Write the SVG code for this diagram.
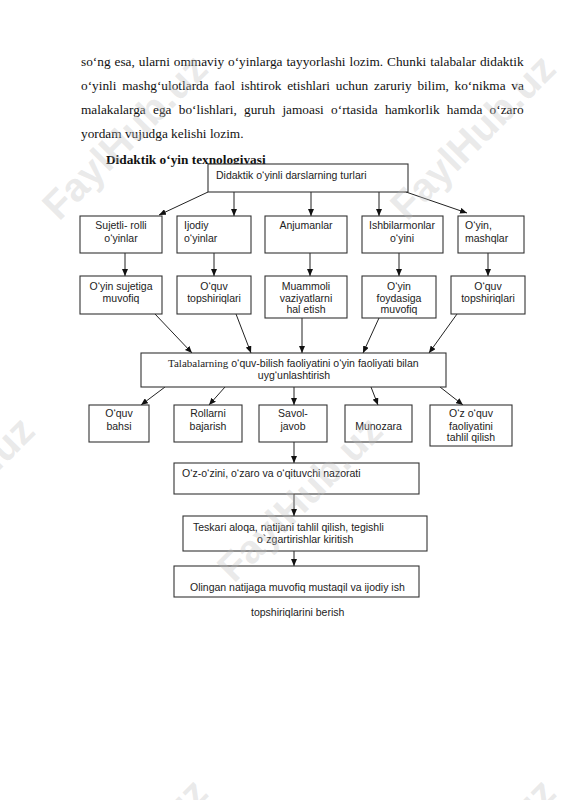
<svg xmlns="http://www.w3.org/2000/svg" width="565" height="800" viewBox="0 0 565 800">
<defs>
<style>
.para{font-family:"Liberation Serif","Times New Roman",serif;font-size:13.3px;fill:#111}
.head{font-family:"Liberation Serif","Times New Roman",serif;font-size:13.3px;font-weight:bold;fill:#111}
.t{font-family:"Liberation Sans",Arial,sans-serif;font-size:10.5px;fill:#222}
.c{text-anchor:middle}
.box{fill:#fff;stroke:#333;stroke-width:1.1}
.con{stroke:#222;stroke-width:1;fill:none;marker-end:url(#ah)}
.wm{font-family:"Liberation Sans",Arial,sans-serif;font-size:40px;font-weight:bold;fill:#bdbdbd;fill-opacity:0.32}
</style>
<marker id="ah" markerWidth="7" markerHeight="6" refX="7" refY="3" orient="auto" markerUnits="userSpaceOnUse">
<path d="M0,0 L7,3 L0,6 z" fill="#111"/>
</marker>
</defs>
<rect width="565" height="800" fill="#fff"/>
<g id="paragraph">
<text class="para" x="81" y="66" word-spacing="0.66">so‘ng esa, ularni ommaviy o‘yinlarga tayyorlashi lozim. Chunki talabalar didaktik</text>
<text class="para" x="81" y="90" word-spacing="2.43">o‘yinli mashg‘ulotlarda faol ishtirok etishlari uchun zaruriy bilim, ko‘nikma va</text>
<text class="para" x="81" y="114" word-spacing="3.98">malakalarga ega bo‘lishlari, guruh jamoasi o‘rtasida hamkorlik hamda o‘zaro</text>
<text class="para" x="81" y="138">yordam vujudga kelishi lozim.</text>
<text class="head" x="106" y="164">Didaktik o‘yin texnologiyasi</text>
</g>
<g id="connectors">
<line class="con" x1="208" y1="192" x2="159" y2="215"/>
<line class="con" x1="234" y1="192" x2="234" y2="216"/>
<line class="con" x1="311" y1="192" x2="311" y2="216"/>
<line class="con" x1="379" y1="192" x2="379" y2="216"/>
<line class="con" x1="406" y1="192" x2="467" y2="213"/>
<line class="con" x1="125" y1="253" x2="125" y2="276"/>
<line class="con" x1="214" y1="253" x2="214" y2="276"/>
<line class="con" x1="310" y1="253" x2="310" y2="276"/>
<line class="con" x1="399" y1="253" x2="399" y2="276"/>
<line class="con" x1="488" y1="253" x2="488" y2="276"/>
<line class="con" x1="155" y1="314" x2="192" y2="353"/>
<line class="con" x1="236" y1="314" x2="251" y2="353"/>
<line class="con" x1="302" y1="318" x2="302" y2="353"/>
<line class="con" x1="379" y1="318" x2="363" y2="353"/>
<line class="con" x1="457" y1="314" x2="429" y2="353"/>
<line class="con" x1="165" y1="387" x2="141" y2="405"/>
<line class="con" x1="225" y1="387" x2="209" y2="405"/>
<line class="con" x1="294" y1="387" x2="294" y2="405"/>
<line class="con" x1="371" y1="387" x2="378" y2="405"/>
<line class="con" x1="440" y1="387" x2="463" y2="405"/>
<line class="con" x1="294" y1="442" x2="294" y2="463"/>
<line class="con" x1="294" y1="494" x2="294" y2="516"/>
<line class="con" x1="294" y1="551" x2="294" y2="566"/>
</g>
<g id="n-top"><rect class="box" x="208" y="164" width="200" height="28"/><text class="t" x="216" y="179">Didaktik o‘yinli darslarning turlari</text></g>
<g id="n-sujetli"><rect class="box" x="80" y="216" width="82" height="37"/><text class="t c" x="121" y="229">Sujetli- rolli</text><text class="t c" x="121" y="242">o‘yinlar</text></g>
<g id="n-ijodiy"><rect class="box" x="177" y="216" width="74" height="37"/><text class="t" x="184" y="229">Ijodiy</text><text class="t" x="184" y="242">o‘yinlar</text></g>
<g id="n-anjuman"><rect class="box" x="265" y="216" width="82" height="37"/><text class="t c" x="306" y="229">Anjumanlar</text></g>
<g id="n-ishbilarmon"><rect class="box" x="362" y="216" width="81" height="37"/><text class="t c" x="402" y="229">Ishbilarmonlar</text><text class="t c" x="402" y="242">o‘yini</text></g>
<g id="n-mashq"><rect class="box" x="458" y="216" width="66" height="37"/><text class="t" x="465" y="229">O‘yin,</text><text class="t" x="465" y="242">mashqlar</text></g>
<g id="n-sujetiga"><rect class="box" x="80" y="276" width="82" height="38"/><text class="t c" x="121" y="290">O‘yin sujetiga</text><text class="t c" x="121" y="302">muvofiq</text></g>
<g id="n-oquv1"><rect class="box" x="177" y="276" width="74" height="38"/><text class="t c" x="214" y="290">O‘quv</text><text class="t c" x="214" y="302">topshiriqlari</text></g>
<g id="n-muammoli"><rect class="box" x="265" y="276" width="82" height="42"/><text class="t c" x="306" y="290">Muammoli</text><text class="t c" x="306" y="301.5">vaziyatlarni</text><text class="t c" x="306" y="313">hal etish</text></g>
<g id="n-foyda"><rect class="box" x="362" y="276" width="74" height="42"/><text class="t c" x="399" y="290">O‘yin</text><text class="t c" x="399" y="301.5">foydasiga</text><text class="t c" x="399" y="313">muvofiq</text></g>
<g id="n-oquv2"><rect class="box" x="451" y="276" width="74" height="38"/><text class="t c" x="488" y="290">O‘quv</text><text class="t c" x="488" y="302">topshiriqlari</text></g>
<g id="n-middle"><rect class="box" x="141" y="353" width="305" height="34"/><text class="t" x="168" y="367"><tspan font-family="Liberation Serif, serif" font-size="11">Talabalarning</tspan> o‘quv-bilish faoliyatini o‘yin faoliyati bilan</text><text class="t c" x="294" y="379">uyg‘unlashtirish</text></g>
<g id="n-bahs"><rect class="box" x="89" y="405" width="60" height="37"/><text class="t c" x="119" y="417">O‘quv</text><text class="t c" x="119" y="430">bahsi</text></g>
<g id="n-rol"><rect class="box" x="174" y="405" width="68" height="37"/><text class="t c" x="208" y="417">Rollarni</text><text class="t c" x="208" y="430">bajarish</text></g>
<g id="n-savol"><rect class="box" x="259" y="405" width="68" height="37"/><text class="t c" x="293" y="417">Savol-</text><text class="t c" x="293" y="430">javob</text></g>
<g id="n-munozara"><rect class="box" x="345" y="405" width="67" height="37"/><text class="t c" x="378.5" y="430">Munozara</text></g>
<g id="n-tahlil"><rect class="box" x="430" y="405" width="82" height="41"/><text class="t c" x="471" y="417">O‘z o‘quv</text><text class="t c" x="471" y="429.5">faoliyatini</text><text class="t c" x="471" y="441">tahlil qilish</text></g>
<g id="n-nazorat"><rect class="box" x="174" y="463" width="245" height="31"/><text class="t" x="182" y="477">O‘z-o‘zini, o‘zaro va o‘qituvchi nazorati</text></g>
<g id="n-teskari"><rect class="box" x="183" y="516" width="244" height="35"/><text class="t" x="193" y="531">Teskari aloqa, natijani tahlil qilish, tegishli</text><text class="t" x="257" y="543">o`zgartirishlar kiritish</text></g>
<g id="n-olingan"><rect class="box" x="174" y="566" width="245" height="31"/><text class="t" x="190" y="591">Olingan natijaga muvofiq mustaqil va ijodiy ish</text></g>
<text class="t" x="251" y="616">topshiriqlarini berish</text>
<g id="watermark">
<text class="wm" transform="translate(59,222) rotate(-45)">FaylHub.uz</text>
<text class="wm" transform="translate(407,222) rotate(-45)">FaylHub.uz</text>
<text class="wm" transform="translate(-114,584) rotate(-45)">FaylHub.uz</text>
<text class="wm" transform="translate(234,584) rotate(-45)">FaylHub.uz</text>
<text class="wm" transform="translate(59,946) rotate(-45)">FaylHub.uz</text>
<text class="wm" transform="translate(407,946) rotate(-45)">FaylHub.uz</text>
</g>
</svg>
